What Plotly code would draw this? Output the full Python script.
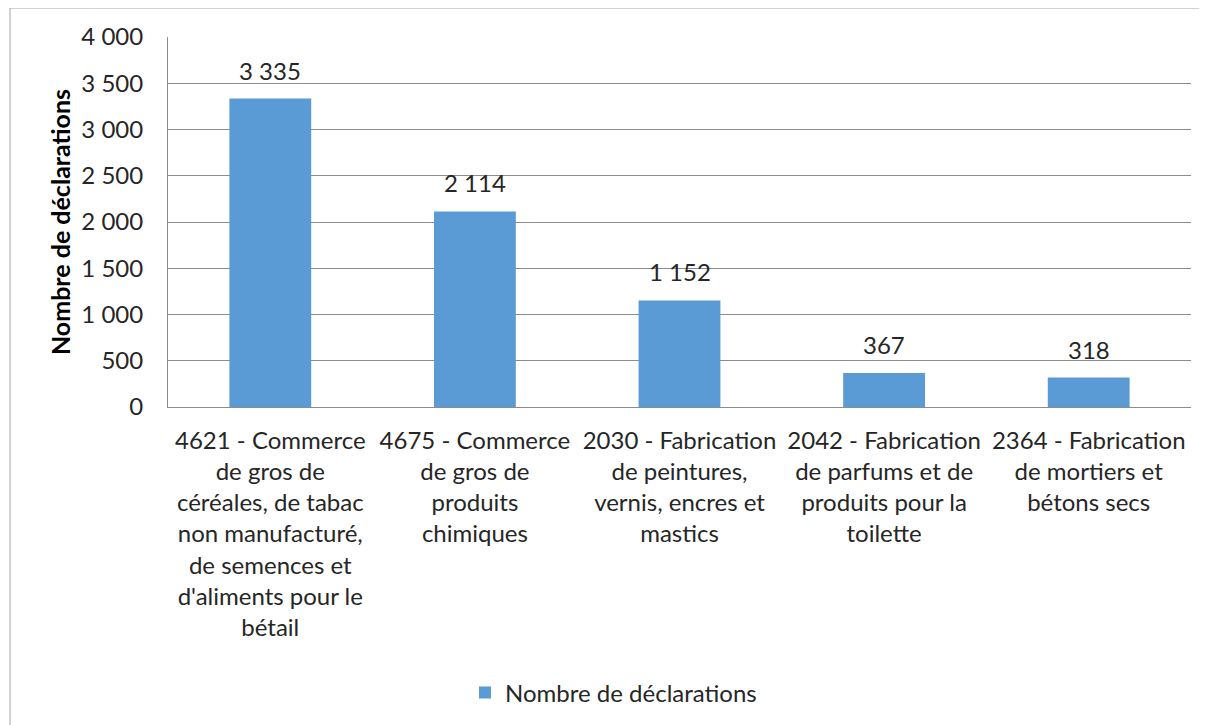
import plotly.graph_objects as go

categories = [
    "4621 - Commerce<br>de gros de<br>céréales, de tabac<br>non manufacturé,<br>de semences et<br>d'aliments pour le<br>bétail",
    "4675 - Commerce<br>de gros de<br>produits<br>chimiques",
    "2030 - Fabrication<br>de peintures,<br>vernis, encres et<br>mastics",
    "2042 - Fabrication<br>de parfums et de<br>produits pour la<br>toilette",
    "2364 - Fabrication<br>de mortiers et<br>bétons secs",
]
values = [3335, 2114, 1152, 367, 318]
value_labels = ["3 335", "2 114", "1 152", "367", "318"]
tick_vals = [0, 500, 1000, 1500, 2000, 2500, 3000, 3500, 4000]
tick_text = ["0", "500", "1 000", "1 500", "2 000", "2 500", "3 000", "3 500", "4 000"]
series_name = "Nombre de déclarations"

# page has an 8px body margin -> compensate
OFF = 8
W, H = 1207 - OFF, 725 - OFF
L, R = 168 - OFF, 16
T = 37 - OFF
PH = 370
B = H - T - PH
pw, ph = W - L - R, PH

def px_x(x):
    return (x - OFF - L) / pw

def px_y(y):
    return (T + PH - (y - OFF)) / ph

FONT = "Lato"
TXT = "#262626"
FS = 24

fig = go.Figure()
fig.add_trace(go.Bar(
    x=categories, y=values, name=series_name,
    marker=dict(color="#5B9BD5", line=dict(width=0)),
))
for c, v, lab in zip(categories, values, value_labels):
    fig.add_annotation(x=c, y=v, text=lab, showarrow=False, yanchor="bottom",
                       yshift=12, font=dict(family=FONT, size=FS, color=TXT))

fig.update_layout(
    width=W, height=H,
    margin=dict(l=L, r=R, t=T, b=B, autoexpand=False),
    paper_bgcolor="white", plot_bgcolor="white",
    bargap=0.6,
    font=dict(family=FONT, size=FS, color=TXT),
    showlegend=True,
    legend=dict(orientation="h", x=px_x(465), xanchor="left", y=px_y(693), yanchor="middle",
                font=dict(family=FONT, size=FS, color=TXT), itemwidth=30),
    shapes=[dict(type="rect", xref="paper", yref="paper",
                 x0=px_x(10), x1=px_x(1230), y0=px_y(740), y1=px_y(8),
                 line=dict(color="#a6a6a6", width=1), fillcolor="rgba(0,0,0,0)", layer="below")],
)
fig.update_xaxes(
    showline=True, linecolor="#8c8c8c", linewidth=1,
    tickfont=dict(family=FONT, size=FS, color=TXT), tickangle=0,
    ticks="", ticklabelstandoff=12,
)
fig.update_yaxes(
    range=[0, 4000], tickvals=tick_vals, ticktext=tick_text,
    showgrid=True, gridcolor="#8c8c8c", gridwidth=1,
    showline=True, linecolor="#8c8c8c", linewidth=1,
    zeroline=False, ticks="", ticklabelstandoff=19,
    tickfont=dict(family=FONT, size=FS, color=TXT),
    title=dict(text="<b>Nombre de déclarations</b>", font=dict(family=FONT, size=25, color="#000000"), standoff=3),
)

fig.write_html("out.html")
